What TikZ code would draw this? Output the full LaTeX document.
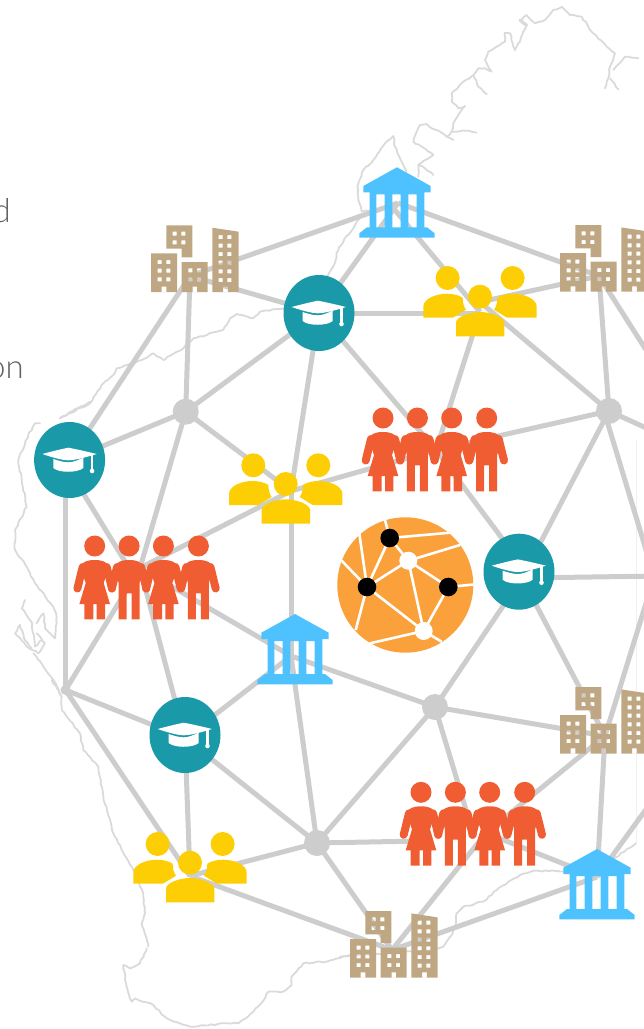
\documentclass[tikz,border=0pt]{standalone}
\usepackage{fontspec}
\newfontfamily\thinfont{Lato Light}
\definecolor{linkgrey}{HTML}{CDCDCD}
\definecolor{mapgrey}{HTML}{DADADA}
\definecolor{peoplered}{HTML}{F15D33}
\definecolor{groupyellow}{HTML}{FECE05}
\definecolor{templeblue}{HTML}{4DC2FF}
\definecolor{towertan}{HTML}{BFA783}
\definecolor{capteal}{HTML}{1A9AA9}
\definecolor{globeorange}{HTML}{FBA13B}
\usetikzlibrary{shapes.geometric,decorations.pathmorphing}
\tikzset{
  link/.style={draw=linkgrey,line width=5pt},
  hubdot/.style={circle,fill=linkgrey,inner sep=0pt,minimum size=26pt},
  coast/.style={draw=mapgrey,line width=1.8pt,line join=round,line cap=round,decorate,decoration={random steps,segment length=3.5pt,amplitude=0.7pt}},
  captext/.style={font=\thinfont\fontsize{33}{33}\selectfont,text=black!62,inner sep=0pt},
  globelink/.style={draw=white,line width=2.6pt},
  capdisc/.style={ellipse,fill=capteal,inner sep=0pt,minimum width=71pt,minimum height=76pt},
  capicon/.pic={
    \fill[white] (-1.3,-12.3) .. controls (-8,-11) and (-20,-8) .. (-27.3,-6) .. controls (-20,-3.5) and (-8,0.3) .. (-1.3,0.3) .. controls (6,0.3) and (19,-3.5) .. (27,-6) .. controls (19,-8) and (6,-11) .. (-1.3,-12.3) -- cycle;
    \fill[white] (-16.3,-1) -- (-16.3,8) .. controls (-11,13) and (8,13) .. (13.7,8) -- (13.7,-2.5) .. controls (8,0.5) and (3,2.3) .. (-1.3,2.3) .. controls (-6,2.3) and (-12,0.5) .. (-16.3,-1) -- cycle;
    \draw[white,line width=2.4pt] (22.5,-5) -- (22.5,10);
    \fill[white] (22.5,11) circle (2.3);
  },
  templeicon/.pic={
    \fill[templeblue] (0,0) -- (33.7,18.7) -- (33.7,25) -- (27.3,25) -- (27.3,27) -- (27.3,60) -- (30,60) -- (37.7,66) -- (37.7,70.3) -- (-37.7,70.3) -- (-37.7,66) -- (-30,60) -- (-27.3,60) -- (-27.3,25) -- (-33.7,25) -- (-33.7,18.7) -- cycle
      (-20.7,27) rectangle (-12.3,60)
      (-4.7,27) rectangle (3.7,60)
      (11.3,27) rectangle (19.7,60);
  },
  towericon/.pic={
    \fill[towertan,even odd rule] (0,-38.7) rectangle (26,0)
      \foreach \wx/\wy in {6.7/-32,15.3/-32,6.7/-23.3,15.3/-23.3,6.7/-14.7,15.3/-14.7} { (\wx,\wy) rectangle ++(4,4) }
      (10.7,-5.3) rectangle (15.3,0);
    \fill[towertan,even odd rule] (15.3,-66.7) -- (41.3,-66.7) -- (41.3,-34.7) -- (30.7,-34.7) -- (30.7,-43.3) -- (15.3,-43.3) -- cycle
      \foreach \wx/\wy in {21.7/-60.3,30.3/-60.3,21.7/-51.7,30.3/-51.7} { (\wx,\wy) rectangle ++(4,4) };
    \fill[towertan,even odd rule] (30.7,-30) rectangle (56.7,0)
      \foreach \wx/\wy in {37.3/-23.7,46/-23.7,37.3/-14.7,46/-14.7} { (\wx,\wy) rectangle ++(4,4) }
      (41.5,-5.3) rectangle (46,0);
    \fill[towertan,even odd rule] (61.3,-64.3) -- (87.7,-60.3) -- (87.7,0) -- (61.3,0) -- cycle
      \foreach \wy in {-57,-48.3,-40,-31.3,-22.7,-14} { (67.7,\wy) rectangle ++(4,4) (76.3,\wy) rectangle ++(4,4) }
      (72.2,-5.3) rectangle (76.8,0);
  },
  groupicon/.pic={
    \fill[groupyellow] (-32.4,-18.7) circle (12) (32.6,-18.7) circle (12) (0,0) circle (12);
    \fill[groupyellow] (-56.7,21) -- (-56.7,10) .. controls (-56.7,2) and (-44,-3) .. (-33,-3) .. controls (-27,-3) and (-21,-1.5) .. (-17.3,1) .. controls (-17.5,6) and (-16,10) .. (-14,13) -- (-27,21) -- cycle;
    \fill[groupyellow] (56.7,21) -- (56.7,10) .. controls (56.7,2) and (44,-3) .. (33,-3) .. controls (27,-3) and (21,-1.5) .. (17.3,1) .. controls (17.5,6) and (16,10) .. (14,13) -- (27,21) -- cycle;
    \fill[groupyellow] (-24,39.7) -- (-24,26) .. controls (-24,20) and (-10,15.3) .. (0.3,15.3) .. controls (10,15.3) and (24.3,20) .. (24.3,26) -- (24.3,39.7) -- cycle;
  },
  woman/.pic={
    \fill[peoplered] (0,0) circle (10.5);
    \draw[peoplered,line width=8pt,line cap=round] (-12,21) -- (-17.3,42.5) (12,21) -- (17.3,42.5);
    \fill[peoplered] (0,14) .. controls (8,14) and (12.5,16) .. (14.5,21) -- (9,37) -- (15.3,58) -- (10.3,58) -- (10.3,73.3) -- (2,73.3) -- (2,58) -- (-1.3,58) -- (-1.3,73.3) -- (-10.3,73.3) -- (-10.3,58) -- (-15.3,58) -- (-9,37) -- (-14.5,21) .. controls (-12.5,16) and (-8,14) .. (0,14) -- cycle;
  },
  man/.pic={
    \fill[peoplered] (0,0) circle (10.5);
    \draw[peoplered,line width=8pt,line cap=round] (-12,21) -- (-17.3,42.5) (12,21) -- (17.3,42.5);
    \fill[peoplered] (0,14) .. controls (8,14) and (12.5,16) .. (14.5,21) -- (10.5,37) -- (10.5,73.3) -- (2.5,73.3) -- (2.5,47.3) -- (-2.5,47.3) -- (-2.5,73.3) -- (-10.5,73.3) -- (-10.5,37) -- (-14.5,21) .. controls (-12.5,16) and (-8,14) .. (0,14) -- cycle;
  },
  crowdicon/.pic={
    \pic at (0,0) {woman};
    \pic at (34.4,0) {man};
    \pic at (68.7,0) {woman};
    \pic at (103.7,0) {man};
  }
}
\begin{document}
\begin{tikzpicture}[x=1pt,y=-1pt]
\useasboundingbox (0,0) rectangle (644,1029);

% --- map outline ---
\begin{scope}[shift={(350,0)},x=0.3333pt,y=-0.3333pt]
\draw[coast] (205,530) -- (205,495) -- (225,505) -- (250,525);
\draw[coast] (205,495) -- (250,465) -- (235,455) -- (215,440) -- (190,425) -- (200,395) -- (210,375) -- (230,372) -- (245,385) -- (270,395) -- (290,410) -- (305,395) -- (310,370) -- (325,345) -- (345,318) -- (325,325) -- (305,305) -- (305,280) -- (320,268) -- (340,245) -- (370,225) -- (385,205) -- (405,205) -- (425,215) -- (405,180) -- (415,155) -- (440,140) -- (465,125) -- (465,98) -- (480,100) -- (495,150) -- (510,125) -- (520,95) -- (530,75) -- (515,60) -- (530,45) -- (555,70) -- (585,60) -- (610,30) -- (635,20) -- (660,45) -- (695,50) -- (730,100) -- (770,140) -- (795,160) -- (780,200) -- (775,235) -- (765,265);
\draw[coast] (780,235) -- (805,268);
\draw[coast] (790,210) -- (825,170) -- (865,175);
\draw[coast] (290,410) -- (310,420);
\draw[coast] (305,395) -- (345,392) -- (380,398);
\draw[coast] (370,225) -- (385,260) -- (410,283);
\draw[coast,line width=3pt] (510,60) -- (530,75);
\draw[coast] (170,515) -- (135,440) -- (130,408) -- (105,430) -- (70,480) -- (40,510) -- (22,560) -- (25,600) -- (35,635) -- (100,625);
\end{scope}
\draw[coast] (384,207) -- (361,217) -- (339,247) -- (333,267) -- (324,280);
\begin{scope}[shift={(60,290)},x=0.3333pt,y=-0.3333pt]
\draw[coast] (670,55) -- (600,65) -- (580,85) -- (530,72) -- (510,85) -- (490,120) -- (400,145) -- (370,175) -- (310,210) -- (280,190) -- (245,210) -- (200,225) -- (170,235) -- (160,255) -- (125,285) -- (90,340) -- (0,385);
\end{scope}
\begin{scope}[shift={(0,400)},x=0.3333pt,y=-0.3333pt]
\draw[coast] (180,55) -- (270,5);
\draw[coast] (120,70) -- (105,70) -- (85,105) -- (55,180) -- (65,240) -- (80,320) -- (45,390) -- (45,450) -- (80,500) -- (105,550) -- (160,620) -- (170,650) -- (165,715) -- (135,685) -- (130,640) -- (110,670);
\draw[coast] (75,600) -- (65,625) -- (95,665) -- (105,740) -- (125,720);
\draw[coast] (60,675) -- (45,700) -- (80,740) -- (115,760) -- (135,730) -- (110,700);
\draw[coast] (60,675) -- (75,720) -- (95,745);
\draw[coast] (100,760) -- (160,840) -- (185,890);
\end{scope}
\begin{scope}[shift={(0,680)},x=0.3333pt,y=-0.3333pt]
\draw[coast] (155,0) -- (185,50) -- (185,90) -- (240,160) -- (250,210) -- (295,260) -- (310,350) -- (340,460) -- (400,570) -- (430,640) -- (435,700) -- (425,730) -- (445,800);
\end{scope}
\begin{scope}[shift={(110,930)},x=0.3333pt,y=-0.3333pt]
\draw[coast] (720,75) -- (650,95) -- (580,100) -- (545,140) -- (545,165) -- (520,185) -- (475,185) -- (465,205) -- (430,245) -- (385,280) -- (355,280) -- (240,290) -- (170,265) -- (130,225) -- (75,205) -- (65,215) -- (50,170) -- (40,105) -- (60,115) -- (90,100) -- (110,55);
\end{scope}
\begin{scope}[shift={(340,750)},x=0.3333pt,y=-0.3333pt]
\draw[coast] (888,280) -- (815,330) -- (700,365) -- (580,362) -- (540,375) -- (470,420) -- (430,455) -- (370,470) -- (350,490) -- (345,530) -- (335,555) -- (310,590) -- (280,600) -- (0,620);
\end{scope}
\draw[draw=black!6,line width=1pt] (636,440) -- (636,843);

% --- cut-off captions ---
\node[captext,anchor=base east] (textd) at (11,222) {d};
\node[captext,anchor=base east] (texton) at (24,378) {on};

% --- where the links meet ---
\coordinate (M1) at (398,203);
\coordinate (M1b) at (389,203);
\coordinate (M2) at (291,656);
\coordinate (M3) at (597,877);
\coordinate (B1) at (190,276);
\coordinate (B2) at (599,276);
\coordinate (B3) at (605,736);
\coordinate (B4) at (392,950);
\coordinate (C1) at (319,313);
\coordinate (C2) at (69,460);
\coordinate (C2s) at (69,470);
\coordinate (C3) at (522,578);
\coordinate (C3n) at (519,561);
\coordinate (C4) at (185,738);
\coordinate (Y1) at (480,302);
\coordinate (Y1b) at (480,312);
\coordinate (Y2) at (291,491);
\coordinate (Y3) at (190,876);
\coordinate (R1) at (436,450);
\coordinate (R2) at (140,568);
\coordinate (R2w) at (129,568);
\coordinate (R3) at (486,833);
\coordinate (R3n) at (470,823);
\coordinate (R3w) at (420,841);
\coordinate (J1) at (185.7,411.7);
\coordinate (J2) at (609,411);
\coordinate (J2s) at (604,411);
\coordinate (J3) at (435,707);
\coordinate (J4) at (317,843);
\coordinate (J5) at (65.5,690);
\coordinate (E1) at (655,364);
\coordinate (E2) at (655,432);
\coordinate (E3) at (660,596);
\coordinate (E4) at (660,576);
\coordinate (E5) at (660,558);
\coordinate (E6) at (660,790);

% --- links ---
\draw[link] (B1) -- (M1);
\draw[link] (M1) -- (B2);
\draw[link] (B1) -- (C1);
\draw[link] (M1) -- (C1);
\draw[link] (M1b) -- (Y1b);
\draw[link] (C1) -- (C1 -| Y1);
\draw[link] (Y1) -- (B2);
\draw[link] (B1) -- (J1);
\draw[link] (B1) -- (C2);
\draw[link] (C2) -- (J1);
\draw[link] (J1) -- (C1);
\draw[link] (C1) -- (Y2);
\draw[link] (J1) -- (Y2);
\draw[link] (J1) -- (R2);
\draw[link] (C2s) -- (R2w);
\draw[link] (J5) -- (J5 |- C2);
\draw[link] (R2) -- (Y2);
\draw[link] (Y2) -- (R1);
\draw[link] (C1) -- (R1);
\draw[link] (Y1b) -- (R1);
\draw[link] (Y1) -- (J2);
\draw[link] (B2) -- (J2);
\draw[link] (J2) -- (R1);
\draw[link] (R1) -- (C3n);
\draw[link] (C3) -- (J2);
\draw[link] (J2) -- (E2);
\draw[link] (J2s) -- (E3);
\draw[link] (B2) -- (E1);
\draw[link] (C3) -- (E4);
\draw[link] (C3) -- (B3);
\draw[link] (C3) -- (J3);
\draw[link] (J3) -- (M2);
\draw[link] (J3) -- (B3);
\draw[link] (J3) -- (J4);
\draw[link] (J3) -- (R3n);
\draw[link] (Y2) -- (Y2 |- M2);
\draw[link] (R2) -- (M2);
\draw[link] (R2) -- (J5);
\draw[link] (R2) -- (C4);
\draw[link] (J5) -- (C4);
\draw[link] (J5) -- (Y3);
\draw[link] (C4) -- (Y3);
\draw[link] (C4) -- (M2);
\draw[link] (C4) -- (J4);
\draw[link] (M2) -- (J4);
\draw[link] (J4) -- (R3w);
\draw[link] (J4) -- (Y3);
\draw[link] (J4) -- (B4);
\draw[link] (Y3) -- (B4);
\draw[link] (R3) -- (B4);
\draw[link] (B4) -- (M3);
\draw[link] (R3) -- (B3);
\draw[link] (R3) -- (M3);
\draw[link] (B3) -- (M3);
\draw[link] (B3) -- (E5);
\draw[link] (M3) -- (E6);

% --- junction dots ---
\node[hubdot] (dot1) at (J1) {};
\node[hubdot] (dot2) at (J2) {};
\node[hubdot] (dot3) at (J3) {};
\node[hubdot] (dot4) at (J4) {};
\node[hubdot,minimum size=10pt] (dot5) at (J5) {};

% --- globe ---
\node[ellipse,fill=globeorange,inner sep=0pt,minimum width=136pt,minimum height=135.4pt] (globe) at (405.3,585) {};
\coordinate (gA) at (389.7,538);
\coordinate (gB) at (367,587);
\coordinate (gC) at (448.3,587);
\coordinate (gD) at (408.3,560.7);
\coordinate (gE) at (423.7,631);
\coordinate (gF1) at (385,520);
\coordinate (gF2) at (450,532.7);
\coordinate (gF3) at (460,545);
\coordinate (gF4) at (473.5,584.5);
\coordinate (gF5) at (359.3,533.3);
\coordinate (gF6) at (341.7,560.7);
\coordinate (gF7) at (355.7,630);
\coordinate (gF8) at (370,643.3);
\coordinate (gF9) at (441.7,641.7);
\foreach \ga/\gb in {gA/gD,gB/gA,gB/gD,gD/gE,gD/gC,gC/gE,gB/gE,gA/gF1,gA/gF2,gD/gF3,gC/gF4,gB/gF5,gB/gF6,gB/gF7,gE/gF8,gE/gF9}
  \draw[globelink] (\ga) -- (\gb);
\fill[white] (gD) circle (9) (gE) circle (9);
\fill[black] (gA) circle (9.3) (gB) circle (9.3) (gC) circle (9.3);

% --- icons ---
\pic (towerA) at (151,292) {towericon};
\pic (towerB) at (560,291.7) {towericon};
\pic (towerC) at (560,753.7) {towericon};
\pic (towerD) at (350,977.7) {towericon};
\pic (templeA) at (397,167.3) {templeicon};
\pic (templeB) at (295,614) {templeicon};
\pic (templeC) at (597,849) {templeicon};
\node[capdisc] (capA) at (319,313) {};
\node[capdisc] (capB) at (69.6,460) {};
\node[capdisc] (capC) at (519,571.7) {};
\node[capdisc] (capD) at (185,735) {};
\pic at (capA) {capicon};
\pic at (capB) {capicon};
\pic at (capC) {capicon};
\pic at (capD) {capicon};
\pic (groupA) at (480,296.7) {groupicon};
\pic (groupB) at (285.7,484) {groupicon};
\pic (groupC) at (190,862.7) {groupicon};
\pic (crowdA) at (383,418) {crowdicon};
\pic (crowdB) at (94.7,546) {crowdicon};
\pic (crowdC) at (421,792.3) {crowdicon};
\end{tikzpicture}
\end{document}
